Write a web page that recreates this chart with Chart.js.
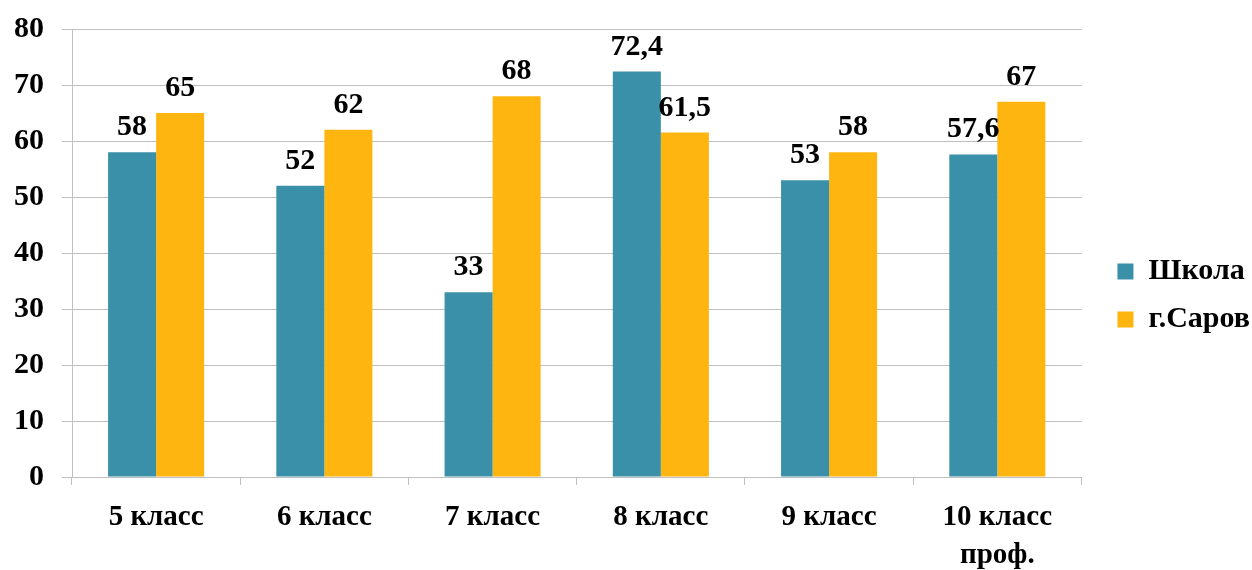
<!DOCTYPE html>
<html lang="ru">
<head>
    <meta charset="UTF-8">
    <title>Школа и г.Саров</title>
    <script src="https://cdn.jsdelivr.net/npm/chart.js"></script>
    <style>
        html, body { margin: 0; padding: 0; background: #fff; }
        #wrap { width: 1252px; height: 570px; }
    </style>
</head>
<body>
    <div id="wrap"><canvas id="chart"></canvas></div>

    <script>
        // Data
        const classes = ['5 класс', '6 класс', '7 класс', '8 класс', '9 класс', ['10 класс', 'проф.']];
        const schoolValues = [58, 52, 33, 72.4, 53, 57.6];
        const cityValues = [65, 62, 68, 61.5, 58, 67];
        const yTicks = [0, 10, 20, 30, 40, 50, 60, 70, 80];

        const serif = '"Liberation Serif", "Times New Roman", serif';
        const gridGray = '#BFBFBF';

        // Bold value above each bar, with a comma decimal
        const barValues = {
            id: 'barValues',
            afterDatasetsDraw(chart) {
                const ctx = chart.ctx;
                ctx.save();
                ctx.font = 'bold 30px ' + serif;
                ctx.fillStyle = '#000';
                ctx.textAlign = 'center';
                ctx.textBaseline = 'alphabetic';
                chart.data.datasets.forEach((ds, i) => {
                    chart.getDatasetMeta(i).data.forEach((bar, j) => {
                        const txt = String(ds.data[j]).replace('.', ',');
                        ctx.fillText(txt, bar.x, bar.y - 17);
                    });
                });
                ctx.restore();
            }
        };

        // push the legend a bit away from the plot, like the original
        const legendNudge = {
            id: 'legendNudge',
            afterLayout(chart) {
                const lg = chart.legend;
                lg.left += 18; lg.right += 18;
                lg.top -= 4; lg.bottom -= 4;
            }
        };

        new Chart(document.getElementById('chart'), {
            type: 'bar',
            data: {
                labels: classes,
                datasets: [
                    { label: 'Школа', data: schoolValues, backgroundColor: '#3A90A8' },
                    { label: 'г.Саров', data: cityValues, backgroundColor: '#FFB50F' }
                ]
            },
            options: {
                responsive: true,
                maintainAspectRatio: false,
                animation: false,
                layout: { padding: { top: 29, right: 10 } },
                datasets: { bar: { categoryPercentage: 0.571, barPercentage: 1 } },
                plugins: {
                    tooltip: { enabled: false },
                    legend: {
                        position: 'right',
                        labels: {
                            boxWidth: 16,
                            boxHeight: 16,
                            padding: 18,
                            color: '#000',
                            font: { family: serif, size: 30, weight: 'bold' }
                        }
                    }
                },
                scales: {
                    x: {
                        grid: { drawOnChartArea: false, drawTicks: true, tickLength: 8, color: gridGray },
                        border: { color: gridGray },
                        ticks: { color: '#000', padding: 14, font: { family: serif, size: 29, weight: 'bold', lineHeight: 1.3 } },
                        afterFit(scale) { scale.height = 93; }
                    },
                    y: {
                        min: 0,
                        max: 80,
                        afterBuildTicks(scale) { scale.ticks = yTicks.map(v => ({ value: v })); },
                        grid: { color: gridGray, tickLength: 10 },
                        border: { color: gridGray },
                        ticks: { color: '#000', padding: 18, font: { family: serif, size: 30, weight: 'bold' } },
                        afterFit(scale) {
                            scale.width = 72;
                            scale.paddingTop = 0;
                            scale.paddingBottom = 0;
                        }
                    }
                }
            },
            plugins: [barValues, legendNudge]
        });
    </script>
</body>
</html>
